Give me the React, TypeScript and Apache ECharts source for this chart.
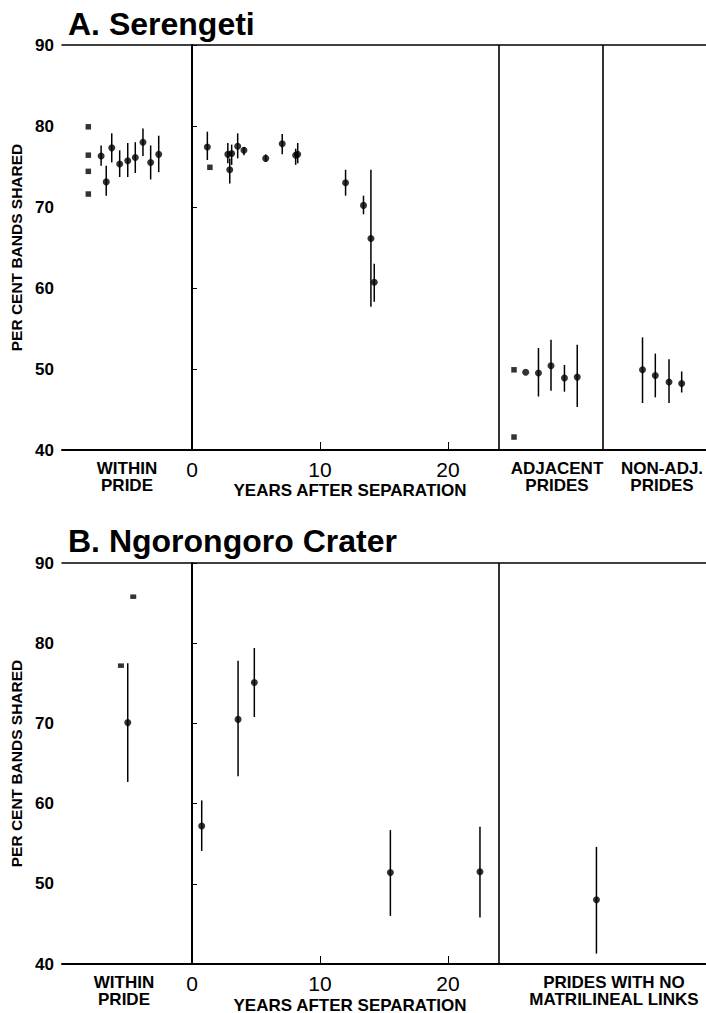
import React, { useEffect, useRef } from "react";
import * as echarts from "echarts";

// ---------- shared scales ----------
const yTicks = [40, 50, 60, 70, 80, 90];
const yearLabels = [0, 10, 20];
const yearTicks = [10, 20];
const yAxisTitle = "PER CENT BANDS SHARED";
const yearsTitle = "YEARS AFTER SEPARATION";

// x values are on the "years after separation" scale; the non-year sections use slot positions on the same scale.

// ---------- Panel A: Serengeti ----------
const titleA = "A. Serengeti";
const dividersA = [0, 24, 32.1];
const sectionLabelsA = ["WITHIN\nPRIDE", "ADJACENT\nPRIDES", "NON-ADJ.\nPRIDES"];

const aSquareX = [-8.1, -8.1, -8.1, -8.1, 1.4, 25.16, 25.16];
const aSquareY = [79.9, 76.4, 74.4, 71.6, 74.9, 49.9, 41.6];

const aWithinX = [-7.1, -6.7, -6.27, -5.65, -5.02, -4.43, -3.83, -3.23, -2.6];
const aWithinMean = [76.3, 73.1, 77.3, 75.3, 75.7, 76.1, 78.0, 75.5, 76.5];
const aWithinLo = [75.1, 71.4, 75.5, 73.7, 73.7, 74.2, 76.3, 73.4, 74.3];
const aWithinHi = [77.6, 75.1, 79.1, 77.0, 77.9, 78.0, 79.7, 77.6, 78.8];

const aYears = [1.2, 2.8, 2.95, 3.1, 3.57, 4.06, 5.76, 7.05, 8.1, 8.26, 12.0, 13.4, 13.98, 14.24];
const aYearsMean = [77.4, 76.5, 74.6, 76.6, 77.5, 77.0, 76.0, 77.8, 76.4, 76.5, 73.0, 70.2, 66.1, 60.7];
const aYearsLo = [75.8, 75.4, 72.9, 75.2, 76.0, 76.4, 75.6, 76.5, 75.2, 75.4, 71.4, 69.1, 57.7, 58.3];
const aYearsHi = [79.3, 77.9, 76.0, 77.7, 79.1, 77.4, 76.5, 79.0, 77.2, 77.9, 74.6, 71.4, 74.6, 63.0];

const aAdjX = [26.07, 27.07, 28.05, 29.1, 30.1];
const aAdjMean = [49.6, 49.5, 50.4, 48.9, 49.0];
const aAdjLo = [49.6, 46.6, 47.3, 47.2, 45.3];
const aAdjHi = [49.6, 52.6, 53.6, 50.5, 53.0];

const aNonAdjX = [35.2, 36.2, 37.27, 38.26];
const aNonAdjMean = [49.9, 49.2, 48.4, 48.2];
const aNonAdjLo = [45.8, 46.5, 45.8, 47.1];
const aNonAdjHi = [53.9, 51.9, 51.2, 49.7];

// ---------- Panel B: Ngorongoro Crater ----------
const titleB = "B. Ngorongoro Crater";
const dividersB = [0, 24];
const sectionLabelsB = ["WITHIN\nPRIDE", "PRIDES WITH NO\nMATRILINEAL LINKS"];

const bSquareX = [-5.55, -4.59];
const bSquareY = [77.2, 85.8];

const bWithinX = [-5.02];
const bWithinMean = [70.1];
const bWithinLo = [62.7];
const bWithinHi = [77.5];

const bYears = [0.76, 3.6, 4.87, 15.5, 22.5];
const bYearsMean = [57.2, 70.5, 75.1, 51.4, 51.5];
const bYearsLo = [54.1, 63.4, 70.8, 46.0, 45.8];
const bYearsHi = [60.4, 77.8, 79.4, 56.7, 57.1];

const bNoLinkX = [31.6];
const bNoLinkMean = [48.0];
const bNoLinkLo = [41.3];
const bNoLinkHi = [54.6];

// ---------- layout ----------
const X_MIN = -10.156;
const X_MAX = 40.16;
const INK = "#000";
const FONT = "'Liberation Sans', Arial, Helvetica, sans-serif";

function zip3(x: number[], a: number[], b: number[]) {
  return x.map((v, i) => [v, a[i], b[i]]);
}
function zip2(x: number[], a: number[]) {
  return x.map((v, i) => [v, a[i]]);
}

function errorRender(params: any, api: any) {
  const x = api.value(0);
  const p1 = api.coord([x, api.value(1)]);
  const p2 = api.coord([x, api.value(2)]);
  return {
    type: "line",
    shape: { x1: p1[0], y1: p1[1], x2: p2[0], y2: p2[1] },
    style: { stroke: INK, lineWidth: 1.5 },
  };
}

export default function App() {
  const ref = useRef<HTMLDivElement>(null);

  useEffect(() => {
    document.body.style.margin = "0";
    const chart = echarts.init(ref.current!, null, { renderer: "svg" });

    const yAxisBase = (gridIndex: number) => ({
      type: "value",
      gridIndex,
      min: yTicks[0],
      max: yTicks[yTicks.length - 1],
      interval: 10,
      name: yAxisTitle,
      nameLocation: "middle",
      nameRotate: 90,
      nameGap: 26,
      nameTextStyle: { fontFamily: FONT, fontWeight: "bold", fontSize: 15.5, color: INK },
      axisLine: { show: true, lineStyle: { color: INK, width: 2 } },
      axisTick: { show: true, inside: true, length: 5, lineStyle: { color: INK, width: 1 } },
      axisLabel: { fontFamily: FONT, fontWeight: "bold", fontSize: 17, color: INK, margin: 8 },
      splitLine: { show: false },
    });

    const xBottom = (gridIndex: number) => ({
      type: "value",
      gridIndex,
      min: X_MIN,
      max: X_MAX,
      position: "bottom",
      axisLine: { show: true, onZero: false, lineStyle: { color: INK, width: 2 } },
      axisTick: { show: true, inside: true, length: 8, customValues: yearTicks, lineStyle: { color: INK, width: 1 } },
      axisLabel: { show: true, customValues: yearLabels, fontFamily: FONT, fontSize: 21, color: INK, margin: 9 },
      splitLine: { show: false },
    });
    const xTop = (gridIndex: number) => ({
      type: "value",
      gridIndex,
      min: X_MIN,
      max: X_MAX,
      position: "top",
      axisLine: { show: true, onZero: false, lineStyle: { color: INK, width: 1.5 } },
      axisTick: { show: false },
      axisLabel: { show: false },
      splitLine: { show: false },
    });

    const markDividers = (vals: number[]) => ({
      silent: true,
      symbol: "none",
      label: { show: false },
      lineStyle: { color: INK, width: 1.6, type: "solid" },
      data: vals.map((v) => ({ xAxis: v })),
    });

    const panelSeries = (
      xIdx: number,
      yIdx: number,
      squares: number[][],
      squareSize: any,
      groups: number[][][],
      dividers: number[]
    ) => {
      const means = groups.flatMap((g) => g[0]);
      const bars = groups.flatMap((g) => g[1]);
      return [
        {
          type: "custom",
          xAxisIndex: xIdx,
          yAxisIndex: yIdx,
          renderItem: errorRender,
          encode: { x: 0, y: [1, 2] },
          data: bars,
          silent: true,
          z: 2,
        },
        {
          type: "scatter",
          xAxisIndex: xIdx,
          yAxisIndex: yIdx,
          symbol: "circle",
          symbolSize: 7,
          itemStyle: { color: INK },
          data: means,
          markLine: markDividers(dividers),
          silent: true,
          z: 3,
        },
        {
          type: "scatter",
          xAxisIndex: xIdx,
          yAxisIndex: yIdx,
          symbol: "rect",
          symbolSize: squareSize,
          itemStyle: { color: INK },
          data: squares,
          silent: true,
          z: 3,
        },
      ];
    };

    const groupsA = [
      [zip2(aWithinX, aWithinMean), zip3(aWithinX, aWithinLo, aWithinHi)],
      [zip2(aYears, aYearsMean), zip3(aYears, aYearsLo, aYearsHi)],
      [zip2(aAdjX, aAdjMean), zip3(aAdjX, aAdjLo, aAdjHi)],
      [zip2(aNonAdjX, aNonAdjMean), zip3(aNonAdjX, aNonAdjLo, aNonAdjHi)],
    ];
    const groupsB = [
      [zip2(bWithinX, bWithinMean), zip3(bWithinX, bWithinLo, bWithinHi)],
      [zip2(bYears, bYearsMean), zip3(bYears, bYearsLo, bYearsHi)],
      [zip2(bNoLinkX, bNoLinkMean), zip3(bNoLinkX, bNoLinkLo, bNoLinkHi)],
    ];

    const labelStyle = (x: number, y: number, text: string, size = 17) => ({
      type: "text",
      x,
      y,
      silent: true,
      style: {
        text,
        fill: INK,
        font: `bold ${size}px ${FONT}`,
        textAlign: "center",
        textVerticalAlign: "middle",
        lineHeight: 17,
      },
    });

    const option: any = {
      animation: false,
      backgroundColor: "#fff",
      textStyle: { fontFamily: FONT },
      title: [
        { text: titleA, left: 63, top: 3, textStyle: { fontFamily: FONT, fontWeight: "bold", fontSize: 32, color: INK } },
        { text: titleB, left: 63, top: 520, textStyle: { fontFamily: FONT, fontWeight: "bold", fontSize: 32, color: INK } },
      ],
      grid: [
        { left: 62, top: 45, width: 644, height: 405 },
        { left: 62, top: 563, width: 644, height: 401 },
      ],
      xAxis: [xBottom(0), xTop(0), xBottom(1), xTop(1)],
      yAxis: [yAxisBase(0), yAxisBase(1)],
      series: [
        ...panelSeries(0, 0, zip2(aSquareX, aSquareY), 5.5, groupsA, dividersA),
        ...panelSeries(2, 1, zip2(bSquareX, bSquareY), [6, 4.5], groupsB, dividersB),
      ],
      graphic: [
        labelStyle(127, 477, sectionLabelsA[0]),
        labelStyle(350, 490, yearsTitle),
        labelStyle(557, 477, sectionLabelsA[1]),
        labelStyle(662, 477, sectionLabelsA[2]),
        labelStyle(124, 991, sectionLabelsB[0]),
        labelStyle(350, 1005, yearsTitle),
        labelStyle(614, 991, sectionLabelsB[1]),
      ],
    };

    chart.setOption(option);
    return () => chart.dispose();
  }, []);

  return <div ref={ref} style={{ width: 706, height: 1013 }} />;
}
